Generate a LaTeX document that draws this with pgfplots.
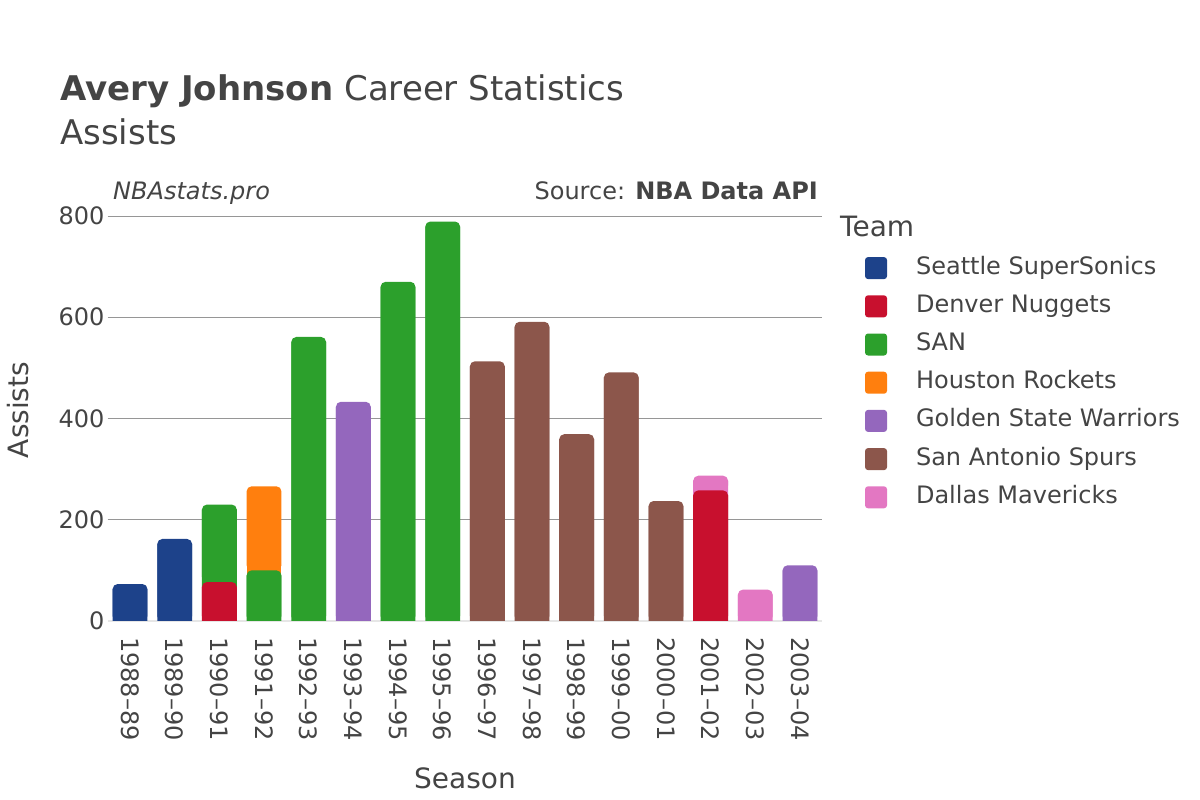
\documentclass[border=0pt]{standalone}
\usepackage{pgfplots}
\usepackage{pgfplotstable}
\pgfplotsset{compat=1.18}
\usepackage{fontspec}
\setmainfont{DejaVu Sans}
\definecolor{txt}{RGB}{68,68,68}
\definecolor{gridc}{RGB}{150,150,150}
\definecolor{zeroc}{RGB}{230,230,230}
\definecolor{sea}{RGB}{29,66,138}
\definecolor{den}{RGB}{200,16,46}
\definecolor{san}{RGB}{44,160,44}
\definecolor{hou}{RGB}{255,127,14}
\definecolor{gsw}{RGB}{148,103,189}
\definecolor{sas}{RGB}{140,86,75}
\definecolor{dal}{RGB}{227,119,194}
\pgfplotstableread{
x sea den san hou gsw sas dal
0 73 0 0 0 0 0 0
1 162 0 0 0 0 0 0
2 0 77 153 0 0 0 0
3 0 0 100 166 0 0 0
4 0 0 561 0 0 0 0
5 0 0 0 0 433 0 0
6 0 0 670 0 0 0 0
7 0 0 789 0 0 0 0
8 0 0 0 0 0 513 0
9 0 0 0 0 0 591 0
10 0 0 0 0 0 369 0
11 0 0 0 0 0 491 0
12 0 0 0 0 0 237 0
13 0 258 0 0 0 0 29
14 0 0 0 0 0 0 62
15 0 0 0 0 110 0 0
}\data
\pgfplotsset{base/.style={
  at={(107.7pt,179pt)}, anchor=south west,
  scale only axis, width=714.6pt, height=420.2pt,
  xmin=-0.5, xmax=15.5, ymin=0, ymax=830,
  ybar stacked, bar width=0.78,
}}
\begin{document}
\begin{tikzpicture}[x=1pt,y=1pt]
\useasboundingbox (0,0) rectangle (1200,800);
% square bodies (shifted down so that only rounded tops remain from the overlay)
\begin{axis}[
  base,
  axis line style={draw=none}, major tick length=0pt,
  ytick={200,400,600,800},
  extra y ticks={0},
  extra y tick style={grid style={color=zeroc, line width=2pt}},
  ymajorgrids, grid style={color=gridc, line width=0.8pt},
  xtick={0,...,15},
  xticklabels={1988–89,1989–90,1990–91,1991–92,1992–93,1993–94,1994–95,1995–96,1996–97,1997–98,1998–99,1999–00,2000–01,2001–02,2002–03,2003–04},
  x tick label style={rotate=-90, anchor=west, inner sep=0pt, font=\fontsize{24}{24}\selectfont, text=txt},
  xticklabel shift=16pt,
  y tick label style={inner sep=0pt, font=\fontsize{24}{24}\selectfont, text=txt},
  yticklabel shift=3pt,
  /pgf/number format/assume math mode=true,
  every axis plot/.append style={draw=none, yshift=-5pt},
  legend image code/.code={\fill[#1] [yshift=5pt, rounded corners=3pt] (0pt,-11pt) rectangle (22pt,11pt);},
  legend style={at={(1.0598,0.866)}, anchor=north west, draw=none, fill=none, inner sep=0pt, outer sep=0pt,
    column sep=29pt, row sep=16.2pt,
    nodes={inner sep=0pt, text height=17pt, text depth=5pt, font=\fontsize{24}{24}\selectfont, text=txt}},
  legend cell align=left,
]
\addplot[fill=sea] table[x=x,y=sea]{\data};
\addplot[fill=den] table[x=x,y=den]{\data};
\addplot[fill=san] table[x=x,y=san]{\data};
\addplot[fill=hou] table[x=x,y=hou]{\data};
\addplot[fill=gsw] table[x=x,y=gsw]{\data};
\addplot[fill=sas] table[x=x,y=sas]{\data};
\addplot[fill=dal] table[x=x,y=dal]{\data};
\legend{Seattle SuperSonics,Denver Nuggets,SAN,Houston Rockets,Golden State Warriors,San Antonio Spurs,Dallas Mavericks}
\end{axis}
% rounded overlay
\begin{axis}[
  base, hide axis,
  every axis plot/.append style={draw=none, rounded corners=5pt},
]
\addplot[fill=sea] table[x=x,y=sea]{\data};
\addplot[fill=den] table[x=x,y=den]{\data};
\addplot[fill=san] table[x=x,y=san]{\data};
\addplot[fill=hou] table[x=x,y=hou]{\data};
\addplot[fill=gsw] table[x=x,y=gsw]{\data};
\addplot[fill=sas] table[x=x,y=sas]{\data};
\addplot[fill=dal] table[x=x,y=dal]{\data};
\end{axis}
\node[anchor=base west, inner sep=0pt, text=txt, font=\fontsize{34}{40}\selectfont] at (60,699) {\textbf{Avery Johnson} Career Statistics};
\node[anchor=base west, inner sep=0pt, text=txt, font=\fontsize{34}{40}\selectfont] at (60,655) {Assists};
\node[anchor=base west, inner sep=0pt, text=txt, font=\fontsize{24}{24}\selectfont] at (113,600) {\itshape NBAstats.pro};
\node[anchor=base east, inner sep=0pt, text=txt, font=\fontsize{24}{24}\selectfont] at (818,600) {Source: \textbf{NBA Data API}};
\node[anchor=base west, inner sep=0pt, text=txt, font=\fontsize{28}{28}\selectfont] at (840,563) {Team};
\node[anchor=center, inner sep=0pt, text=txt, font=\fontsize{28}{28}\selectfont] at (465,22) {Season};
\node[anchor=center, rotate=90, inner sep=0pt, text=txt, font=\fontsize{28}{28}\selectfont] at (18,390) {Assists};
\end{tikzpicture}
\end{document}
